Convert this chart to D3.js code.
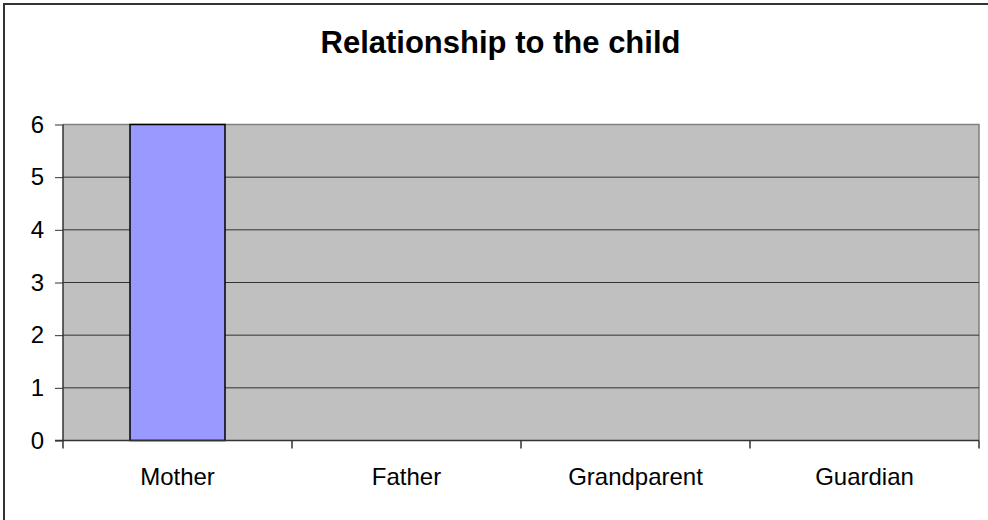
<!DOCTYPE html>
<html><head><meta charset="utf-8">
<script src="https://cdn.jsdelivr.net/npm/d3@7"></script>
<style>html,body{margin:0;padding:0;background:#fff;overflow:hidden}</style>
</head><body>
<script>
const title = "Relationship to the child";
const categories = ["Mother", "Father", "Grandparent", "Guardian"];
const values = [6, 0, 0, 0];
const yTicks = [0, 1, 2, 3, 4, 5, 6];

const W = 988, H = 520;
const m = {left: 63, top: 124.5, right: 979, bottom: 440.5};
const FONT = "Arial, 'Liberation Sans', sans-serif";
const svg = d3.select("body").append("svg").attr("width", W).attr("height", H);

svg.append("rect").attr("x", 4).attr("y", 4).attr("width", 1200).attr("height", 1200)
  .attr("fill", "#fff").attr("stroke", "#333").attr("stroke-width", 2);

svg.append("text").attr("x", 500.5).attr("y", 53).attr("text-anchor", "middle")
  .attr("font-family", FONT).attr("font-weight", "bold")
  .attr("font-size", 31).text(title);

const x = d3.scaleBand().domain(categories).range([m.left, m.right]).paddingInner(0).paddingOuter(0);
const y = d3.scaleLinear().domain([0, 6]).range([m.bottom, m.top]);

svg.append("rect").attr("x", m.left).attr("y", m.top).attr("width", m.right - m.left)
  .attr("height", m.bottom - m.top).attr("fill", "#C0C0C0");
svg.append("path").attr("d", `M${m.left},${m.top}H${m.right}V${m.bottom}`)
  .attr("fill", "none").attr("stroke", "#808080").attr("stroke-width", 1.5);

svg.append("g").selectAll("line").data(yTicks.filter(d => d > 0 && d < 6)).join("line")
  .attr("x1", m.left).attr("x2", m.right).attr("y1", d => y(d)).attr("y2", d => y(d))
  .attr("stroke", "#333").attr("stroke-width", 1);

const bw = 95;
svg.append("g").selectAll("rect").data(categories.map((c, i) => ({c, v: values[i]})).filter(d => d.v > 0)).join("rect")
  .attr("x", d => x(d.c) + x.bandwidth() / 2 - bw / 2).attr("width", bw)
  .attr("y", d => y(d.v)).attr("height", d => y(0) - y(d.v))
  .attr("fill", "#9999FF").attr("stroke", "#000").attr("stroke-width", 1.5);

const yAxis = d3.axisLeft(y).tickValues(yTicks).tickSize(8).tickPadding(11).tickFormat(d3.format("d"));
const ga = svg.append("g").attr("transform", `translate(${m.left},0)`).call(yAxis);
ga.select(".domain").attr("stroke", "#333").attr("stroke-width", 1.5).attr("d", `M0,${m.top}V${m.bottom}`);
ga.selectAll(".tick line").attr("stroke", "#333");
ga.selectAll("text").attr("font-family", FONT).attr("font-size", 24).attr("fill", "#000");

const xAxis = d3.axisBottom(x).tickSize(0).tickPadding(27);
const gx = svg.append("g").attr("transform", `translate(0,${m.bottom})`).call(xAxis);
gx.select(".domain").attr("stroke", "#333").attr("stroke-width", 1.5).attr("d", `M${m.left - 8},0H${m.right}`);
gx.selectAll("text").attr("font-family", FONT).attr("font-size", 24).attr("fill", "#000");
const bounds = categories.map(c => x(c)).concat([x.range()[1]]);
svg.append("g").selectAll("line").data(bounds).join("line")
  .attr("x1", d => d).attr("x2", d => d).attr("y1", m.bottom).attr("y2", m.bottom + 8)
  .attr("stroke", "#333").attr("stroke-width", 1.5);
</script>
</body></html>
